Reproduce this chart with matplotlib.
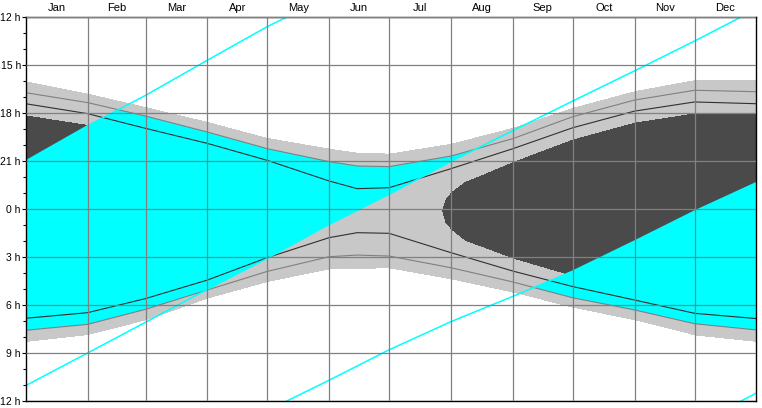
import numpy as np
import matplotlib
matplotlib.use('Agg')
import matplotlib.pyplot as plt

# ---------------- data (hours after 12:00 noon, leap-year day index) ----------------
months = ['Jan', 'Feb', 'Mar', 'Apr', 'May', 'Jun', 'Jul', 'Aug', 'Sep', 'Oct', 'Nov', 'Dec']
month_start = [0, 31, 60, 91, 121, 152, 182, 213, 244, 274, 305, 335, 366]
ytick_labels = ['12 h', '15 h', '18 h', '21 h', '0 h', '3 h', '6 h', '9 h', '12 h']

sun_days   = [0, 31, 60, 91, 121, 152, 166, 182, 213, 244, 274, 305, 335, 366]
sunset     = [4.02, 4.79, 5.63, 6.56, 7.56, 8.23, 8.48, 8.54, 7.92, 6.92, 5.67, 4.63, 3.94, 3.95]
civil_dusk = [4.73, 5.35, 6.19, 7.19, 8.23, 9.04, 9.31, 9.35, 8.69, 7.60, 6.23, 5.19, 4.58, 4.67]
naut_dusk  = [5.42, 6.04, 6.96, 7.90, 8.96, 10.25, 10.73, 10.67, 9.48, 8.23, 6.92, 5.88, 5.31, 5.42]
naut_dawn  = [18.83, 18.48, 17.60, 16.44, 15.04, 13.79, 13.48, 13.52, 14.73, 15.88, 16.85, 17.69, 18.52, 18.85]
civil_dawn = [19.58, 19.21, 18.27, 17.06, 15.90, 14.98, 14.88, 14.94, 15.67, 16.56, 17.55, 18.31, 19.17, 19.56]
sunrise    = [20.31, 19.88, 18.96, 17.60, 16.56, 15.77, 15.73, 15.71, 16.40, 17.23, 18.17, 18.96, 19.90, 20.31]

astro_days = [0, 31, 60, 91, 121, 130, 137, 208.3, 210, 213, 220, 228, 244, 274, 305, 335, 366]
astro_dusk = [6.15, 6.75, 7.75, 8.75, 10.40, 11.20, 12.05, 12.10, 11.42, 10.95, 10.30, 9.90, 9.06, 7.65, 6.60, 6.02, 6.04]
astro_dawn = [18.18, 17.70, 16.85, 15.55, 13.70, 12.90, 12.05, 12.10, 12.84, 13.30, 14.00, 14.35, 15.10, 16.20, 17.00, 17.82, 18.30]

# object rise / set (continuous, wraps every 24 h)
obj_rise = [9.00, 6.80, 4.90, 2.70, 0.60, -1.30, -3.20, -4.96, -6.54, -8.12, -10.00, -11.87, -13.65]
obj_set  = [23.04, 21.00, 19.08, 17.02, 15.08, 12.96, 11.08, 9.03, 7.10, 5.25, 3.36, 1.50, -0.50]

# ---------------- figure ----------------
plt.rcParams['font.family'] = ['Liberation Sans', 'DejaVu Sans']
W, H = 762, 408
fig = plt.figure(figsize=(W / 100, H / 100), dpi=100)
ax = fig.add_axes([25.7 / W, (H - 401) / H, (756.5 - 25.7) / W, 384 / H])

ncol, nrow = 731, 384
d = (np.arange(ncol) + 0.5) * 366 / ncol
t = ((np.arange(nrow) + 0.5) * 24 / nrow)[:, None]

def ev(xs, ys):
    return np.interp(d, xs, ys)[None, :]

ss, sr = ev(sun_days, sunset), ev(sun_days, sunrise)
cd, cw = ev(sun_days, civil_dusk), ev(sun_days, civil_dawn)
ad, aw = ev(astro_days, astro_dusk), ev(astro_days, astro_dawn)
rr, st = ev(month_start, obj_rise), ev(month_start, obj_set)

below0 = (t > ss) & (t < sr)
below6 = (t > cd) & (t < cw)
below18 = (t > ad) & (t < aw)
up = ((t - rr) % 24) < ((st - rr) % 24)

img = np.ones((nrow, ncol, 3))
img[below0] = np.array([200, 200, 200]) / 255
img[below18 & ~up] = np.array([74, 74, 74]) / 255
img[below6 & up] = np.array([0, 255, 255]) / 255

ax.imshow(img, extent=(0, 366, 24, 0), aspect='auto', interpolation='nearest', zorder=0)

for arr in (civil_dusk, civil_dawn):
    ax.plot(sun_days, arr, color='#808080', lw=0.8, zorder=2)
for arr in (naut_dusk, naut_dawn):
    ax.plot(sun_days, arr, color='#303030', lw=0.8, zorder=2)
for off in (0, 24):
    ax.plot(month_start, np.array(obj_rise) + off, color='#00ffff', lw=1.1, zorder=2)
    ax.plot(month_start, np.array(obj_set) + off, color='#00ffff', lw=1.1, zorder=2)

ax.set_xlim(0, 366)
ax.set_ylim(24, 0)

# x axis: month names on top, gridlines at month boundaries
mids = [(month_start[i] + month_start[i + 1]) / 2 for i in range(12)]
ax.set_xticks(mids)
ax.set_xticklabels(months)
ax.set_xticks(month_start[1:-1], minor=True)
ax.xaxis.set_ticks_position('top')
ax.tick_params(axis='x', which='both', length=0, pad=3, labelsize=8)
ax.grid(axis='x', which='minor', color='#808080', lw=0.9, zorder=3)

# y axis
ax.set_yticks(np.arange(0, 25, 3))
ax.set_yticklabels(ytick_labels)
ax.set_yticks(np.arange(0, 25, 1), minor=True)
ax.tick_params(axis='y', which='major', length=3, width=0.8, pad=0.5, labelsize=7.5, direction='out')
ax.tick_params(axis='y', which='minor', length=2.5, width=0.8, direction='out')
ax.grid(axis='y', which='major', color='#808080', lw=0.9, zorder=3)
ax.set_axisbelow(False)

for sp in ax.spines.values():
    sp.set_color('black')
    sp.set_linewidth(1.0)

fig.savefig('out.png', dpi=100)
